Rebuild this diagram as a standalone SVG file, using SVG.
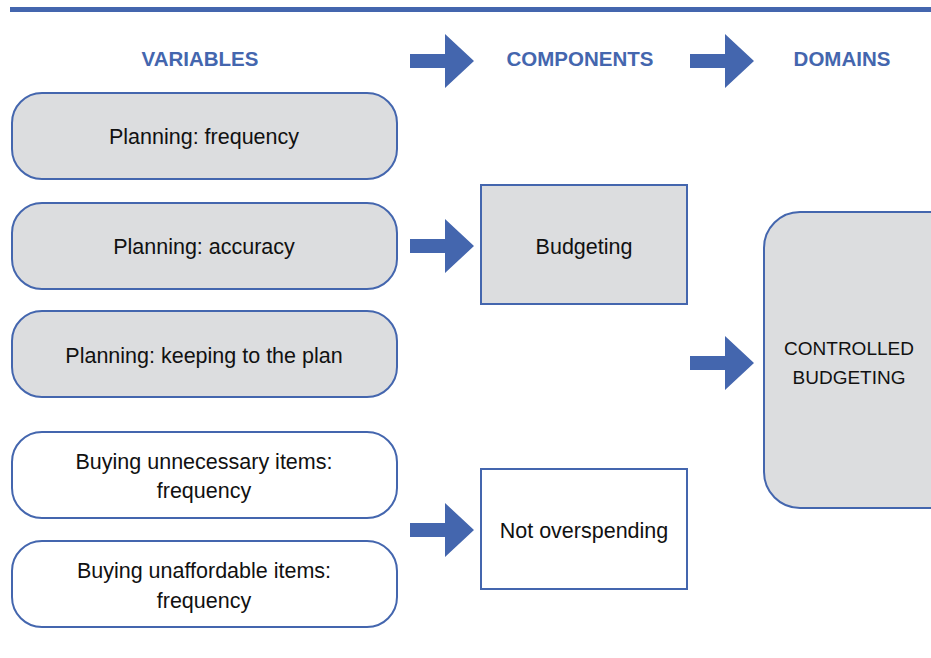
<svg xmlns="http://www.w3.org/2000/svg" width="931" height="658" viewBox="0 0 931 658">
<style>
.hdr{font-family:"Liberation Sans",Arial,sans-serif;font-weight:bold;font-size:20.5px;fill:#4466AE;text-anchor:middle}
.t{font-family:"Liberation Sans",Arial,sans-serif;font-size:21.5px;fill:#111;text-anchor:middle}
.cap{font-size:19px}
.var{stroke:#4466AE;stroke-width:2}
.g{fill:#DCDDDF}
.w{fill:#FFFFFF}
.arr{fill:#4466AE}
</style>
<defs>
<path id="ar" d="M0,-7 H35 V-27 L64,0 L35,27 V7 H0 Z"/>
</defs>
<rect x="10" y="7" width="921" height="5" fill="#4466AE"/>
<g id="headers">
<text class="hdr" x="200" y="66">VARIABLES</text>
<text class="hdr" x="580" y="66">COMPONENTS</text>
<text class="hdr" x="842" y="66">DOMAINS</text>
</g>
<g id="v1"><rect class="var g" x="12" y="93" width="385" height="86" rx="30"/><text class="t" x="204" y="144">Planning: frequency</text></g>
<g id="v2"><rect class="var g" x="12" y="203" width="385" height="86" rx="30"/><text class="t" x="204" y="254">Planning: accuracy</text></g>
<g id="v3"><rect class="var g" x="12" y="311" width="385" height="86" rx="30"/><text class="t" x="204" y="363">Planning: keeping to the plan</text></g>
<g id="v4"><rect class="var w" x="12" y="432" width="385" height="86" rx="30"/><text class="t" x="204" y="469">Buying unnecessary items:</text><text class="t" x="204" y="498">frequency</text></g>
<g id="v5"><rect class="var w" x="12" y="541" width="385" height="86" rx="30"/><text class="t" x="204" y="578">Buying unaffordable items:</text><text class="t" x="204" y="608">frequency</text></g>
<g id="c1"><rect class="var g" x="481" y="185" width="206" height="119"/><text class="t" x="584" y="254">Budgeting</text></g>
<g id="c2"><rect class="var w" x="481" y="469" width="206" height="120"/><text class="t" x="584" y="538">Not overspending</text></g>
<g id="d1"><rect class="var g" x="764" y="212" width="200" height="296" rx="36"/><text class="t cap" x="849" y="355">CONTROLLED</text><text class="t cap" x="849" y="384">BUDGETING</text></g>
<g id="connectors" class="arr">
<use href="#ar" x="410" y="61"/>
<use href="#ar" x="690" y="61"/>
<use href="#ar" x="410" y="246"/>
<use href="#ar" x="690" y="363"/>
<use href="#ar" x="410" y="530"/>
</g>
</svg>
